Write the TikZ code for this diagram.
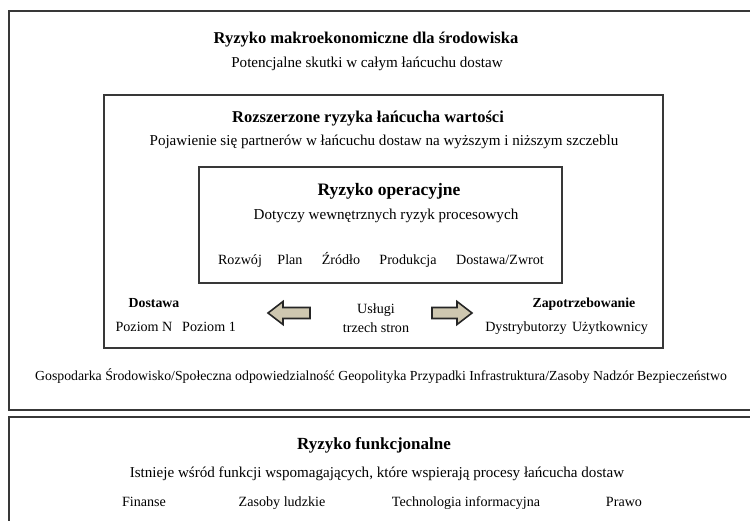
\documentclass[tikz,border=0pt]{standalone}
\usepackage{fontspec}
\setmainfont{Liberation Serif}
\begin{document}
\begin{tikzpicture}[x=1pt,y=-1pt,
  frame/.style={draw=black!78,line width=2.6pt},
  ttl/.style={font=\fontsize{16.5}{18}\selectfont\bfseries,inner sep=0pt,anchor=base},
  txt/.style={font=\fontsize{15.1}{17}\selectfont,inner sep=0pt,anchor=base},
  sml/.style={font=\fontsize{14.1}{16}\selectfont,inner sep=0pt,anchor=base},
  sbold/.style={font=\fontsize{13.8}{16}\selectfont\bfseries,inner sep=0pt,anchor=base},
  blk/.style={draw=black!85,line width=1.6pt,fill=arrowfill,line join=miter}]
\definecolor{arrowfill}{RGB}{206,199,176}
\useasboundingbox (0,0) rectangle (750,521);
% frames
\draw[frame] (9,11) rectangle (770,410);
\draw[frame] (9,417) rectangle (770,540);
\draw[frame] (104,95) rectangle (663,348);
\draw[frame,line width=2.3pt] (199,167) rectangle (562,283);
% macro level
\node[ttl] (t1) at (366,44) {Ryzyko makroekonomiczne dla środowiska};
\node[txt] (s1) at (367,68) {Potencjalne skutki w całym łańcuchu dostaw};
% extended value chain
\node[ttl] (t2) at (368,123) {Rozszerzone ryzyka łańcucha wartości};
\node[txt] (s2) at (384,146) {Pojawienie się partnerów w łańcuchu dostaw na wyższym i niższym szczeblu};
% operational
\node[ttl,font=\fontsize{17.5}{19}\selectfont\bfseries] (t3) at (389,195.5) {Ryzyko operacyjne};
\node[txt] (s3) at (386,220) {Dotyczy wewnętrznych ryzyk procesowych};
\node[sml] (p1) at (240,264.5) {Rozwój};
\node[sml] (p2) at (290,264.5) {Plan};
\node[sml] (p3) at (341,264.5) {Źródło};
\node[sml] (p4) at (408,264.5) {Produkcja};
\node[sml] (p5) at (500,264.5) {Dostawa/Zwrot};
% supply / demand
\node[sbold] (d1) at (154,307.5) {Dostawa};
\node[sml] (d2) at (144,331.5) {Poziom N};
\node[sml] (d3) at (209,331.5) {Poziom 1};
\node[sml] (u1) at (376,314) {Usługi};
\node[sml] (u2) at (376,332.5) {trzech stron};
\node[sbold] (z1) at (584,307.5) {Zapotrzebowanie};
\node[sml] (z2) at (526,331.5) {Dystrybutorzy};
\node[sml] (z3) at (610,331.5) {Użytkownicy};
% block arrows
\draw[blk] (268,313) -- (283,301.5) -- (283,307.5) -- (310,307.5) -- (310,318.5) -- (283,318.5) -- (283,324.5) -- cycle;
\draw[blk] (472,313) -- (457,301.5) -- (457,307.5) -- (432,307.5) -- (432,318.5) -- (457,318.5) -- (457,324.5) -- cycle;
% macro list
\node[sml,font=\fontsize{13.8}{16}\selectfont] (g) at (381,380.5) {Gospodarka Środowisko/Społeczna odpowiedzialność Geopolityka Przypadki Infrastruktura/Zasoby Nadzór Bezpieczeństwo};
% functional
\node[ttl,font=\fontsize{17}{19}\selectfont\bfseries] (t4) at (374,449.5) {Ryzyko funkcjonalne};
\node[txt] (s4) at (377,477) {Istnieje wśród funkcji wspomagających, które wspierają procesy łańcucha dostaw};
\node[sml] (f1) at (144,506.5) {Finanse};
\node[sml] (f2) at (282,506.5) {Zasoby ludzkie};
\node[sml] (f3) at (466,506.5) {Technologia informacyjna};
\node[sml] (f4) at (624,506.5) {Prawo};
\end{tikzpicture}
\end{document}
